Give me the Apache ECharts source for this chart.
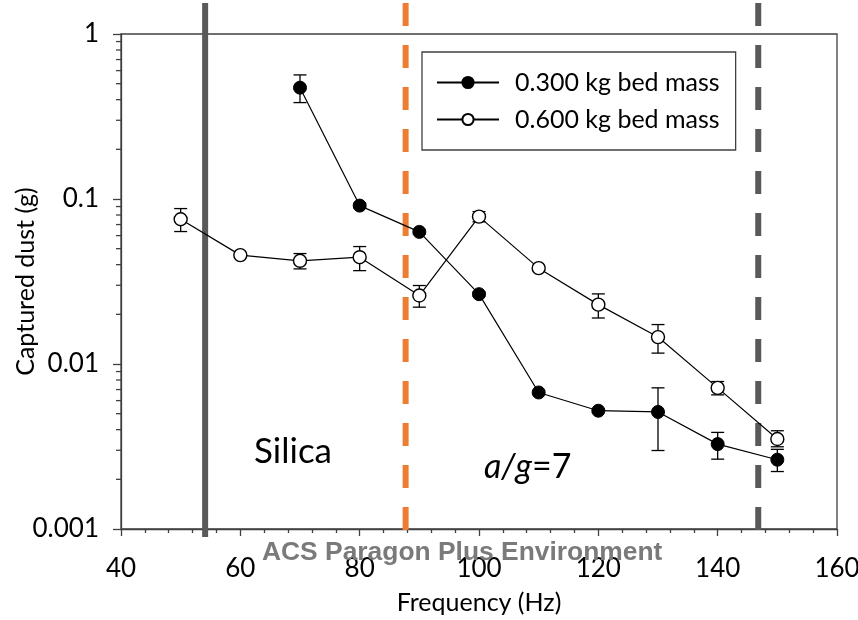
<!DOCTYPE html>
<html><head><meta charset="utf-8">
<script src="https://cdn.jsdelivr.net/npm/echarts@6/dist/echarts.min.js"></script>
<style>html,body{margin:0;padding:0;background:#fff}#c{width:858px;height:620px}</style>
</head><body><div id="c"></div>
<script>
// ---- data ----
var freq300 = [70, 80, 90, 100, 110, 120, 130, 140, 150];
var dust300 = [0.473, 0.0912, 0.0632, 0.0265, 0.00672, 0.00521, 0.00512, 0.00327, 0.00263];
var dust300Hi = [0.565, 0.0941, 0.0650, 0.0272, 0.00690, 0.00535, 0.00717, 0.00385, 0.00304];
var dust300Lo = [0.384, 0.0886, 0.0614, 0.0258, 0.00654, 0.00507, 0.00299, 0.00265, 0.00223];

var freq600 = [50, 60, 70, 80, 90, 100, 110, 120, 130, 140, 150];
var dust600 = [0.0754, 0.0457, 0.0422, 0.0444, 0.0260, 0.0782, 0.0381, 0.0229, 0.01456, 0.00717, 0.00351];
var dust600Hi = [0.0875, 0.0470, 0.0467, 0.0515, 0.0299, 0.0839, 0.0392, 0.0266, 0.01734, 0.00783, 0.00394];
var dust600Lo = [0.0635, 0.0444, 0.0377, 0.0368, 0.0221, 0.0727, 0.0370, 0.0190, 0.01164, 0.00650, 0.00315];

var seriesNames = ['0.300 kg bed mass', '0.600 kg bed mass'];
var xTicks = [40, 60, 80, 100, 120, 140, 160];
var yTickLabels = ['0.001', '0.01', '0.1', '1'];
var yMinorTicks = [];
[0.001, 0.01, 0.1].forEach(function (d) { for (var k = 2; k <= 9; k++) yMinorTicks.push(+(d * k).toPrecision(3)); });

var refLines = [54.1, 87.7, 146.8];
var refColors = ['#595959', '#ED7D31', '#595959'];
var refDashed = [false, true, true];

var FONT = 'Lato';

function pairs(xs, ys) { return xs.map(function (x, i) { return [x, ys[i]]; }); }
function errData(xs, lo, hi) { return xs.map(function (x, i) { return [x, lo[i], hi[i]]; }); }

function errRender(params, api) {
  var x = api.value(0);
  var pHi = api.coord([x, api.value(2)]);
  var pLo = api.coord([x, api.value(1)]);
  var w = 6.5;
  var st = { stroke: '#000', lineWidth: 1.3 };
  return { type: 'group', children: [
    { type: 'line', shape: { x1: pHi[0], y1: pHi[1], x2: pLo[0], y2: pLo[1] }, style: st },
    { type: 'line', shape: { x1: pHi[0] - w, y1: pHi[1], x2: pHi[0] + w, y2: pHi[1] }, style: st },
    { type: 'line', shape: { x1: pLo[0] - w, y1: pLo[1], x2: pLo[0] + w, y2: pLo[1] }, style: st }
  ]};
}

var chart = echarts.init(document.getElementById('c'), null, { renderer: 'canvas' });
chart.setOption({
  animation: false,
  backgroundColor: '#fff',
  textStyle: { fontFamily: FONT },
  grid: { left: 121, right: 21, top: 34, bottom: 91, show: true, borderColor: '#404040', borderWidth: 1.3,
    containLabel: false, outerBoundsMode: 'none' },
  legend: {
    data: seriesNames,
    orient: 'vertical',
    left: 422, top: 52,
    padding: [18, 16, 18, 14],
    itemGap: 12,
    itemWidth: 62, itemHeight: 14,
    backgroundColor: '#fff',
    borderColor: '#404040', borderWidth: 1.3,
    textStyle: { fontSize: 25, color: '#000', fontFamily: FONT, padding: [0, 0, 0, 11] }
  },
  xAxis: {
    type: 'value', min: 40, max: 160, interval: 20,
    name: 'Frequency (Hz)', nameLocation: 'middle', nameGap: 61, nameMoveOverlap: false,
    nameTextStyle: { fontSize: 25, color: '#000', fontFamily: FONT },
    axisLine: { lineStyle: { color: '#404040', width: 1.3 } },
    axisTick: { inside: false, length: 7, lineStyle: { color: '#404040', width: 1.3 } },
    minorTick: { show: true, splitNumber: 5, length: 4, lineStyle: { color: '#404040', width: 1.3 } },
    splitLine: { show: false },
    axisLabel: { fontSize: 26, color: '#000', margin: 27, fontFamily: FONT,
      formatter: function (v) { var i = xTicks.indexOf(Math.round(v)); return i >= 0 ? String(xTicks[i]) : ''; } }
  },
  yAxis: {
    type: 'log', logBase: 10, min: 0.001, max: 1,
    name: 'Captured dust (g)', nameLocation: 'middle', nameGap: 83, nameRotate: 90, nameMoveOverlap: false,
    nameTextStyle: { fontSize: 25, color: '#000', fontFamily: FONT },
    axisLine: { lineStyle: { color: '#404040', width: 1.3 } },
    axisTick: { inside: false, length: 8, lineStyle: { color: '#404040', width: 1.3 } },
    splitLine: { show: false },
    axisLabel: { fontSize: 26, color: '#000', margin: 22, fontFamily: FONT,
      formatter: function (v) { var e = Math.round(Math.log(v) / Math.LN10); return yTickLabels[e + 3] || ''; } }
  },
  graphic: [
    { type: 'text', left: 254, top: 434, style: { text: 'Silica', font: '35px Lato', fill: '#000' }, z: 5 },
    { type: 'text', left: 484, top: 450, style: { text: '{i|a}{i|/}{i|g}{n|=7}', rich: {
        i: { font: 'italic 34px Lato', fill: '#000' }, n: { font: '34px Lato', fill: '#000' } } }, z: 5 },
    { type: 'text', left: 262, top: 540, style: { text: 'ACS Paragon Plus Environment', font: 'bold 26.4px "Liberation Sans"', fill: '#7a7a7a' }, z: 100 }
  ],
  series: [
    { type: 'custom', name: 'refLines', silent: true, clip: false, z: 1,
      data: refLines.map(function (v, i) { return [v, 1, i]; }),
      renderItem: function (params, api) {
        var v = api.value(0), i = api.value(2);
        var pt = api.coord([v, 1]), pb = api.coord([v, 0.001]);
        return { type: 'line', shape: { x1: pt[0], y1: pt[1] - 31, x2: pb[0], y2: pb[1] + 8 },
          style: { stroke: refColors[i], lineWidth: 6, lineDash: refDashed[i] ? [23, 19] : null } };
      } },
    { type: 'custom', name: 'yMinor', silent: true, clip: false, z: 2,
      data: yMinorTicks.map(function (v) { return [40, v]; }),
      renderItem: function (params, api) {
        var p = api.coord([api.value(0), api.value(1)]);
        return { type: 'line', shape: { x1: p[0] - 5, y1: p[1], x2: p[0], y2: p[1] }, style: { stroke: '#404040', lineWidth: 1.3 } };
      } },
    { type: 'custom', name: 'err300', silent: true, clip: false, z: 3, data: errData(freq300, dust300Lo, dust300Hi), renderItem: errRender },
    { type: 'custom', name: 'err600', silent: true, clip: false, z: 3, data: errData(freq600, dust600Lo, dust600Hi), renderItem: errRender },
    { type: 'line', name: seriesNames[0], data: pairs(freq300, dust300), z: 4,
      symbol: 'circle', symbolSize: 13, showAllSymbol: true,
      lineStyle: { color: '#000', width: 1.2 },
      itemStyle: { color: '#000', borderColor: '#000', borderWidth: 1 } },
    { type: 'line', name: seriesNames[1], data: pairs(freq600, dust600), z: 4,
      symbol: 'circle', symbolSize: 13, showAllSymbol: true,
      lineStyle: { color: '#000', width: 1.2 },
      itemStyle: { color: '#fff', borderColor: '#000', borderWidth: 1.4 } }
  ]
});
</script></body></html>
